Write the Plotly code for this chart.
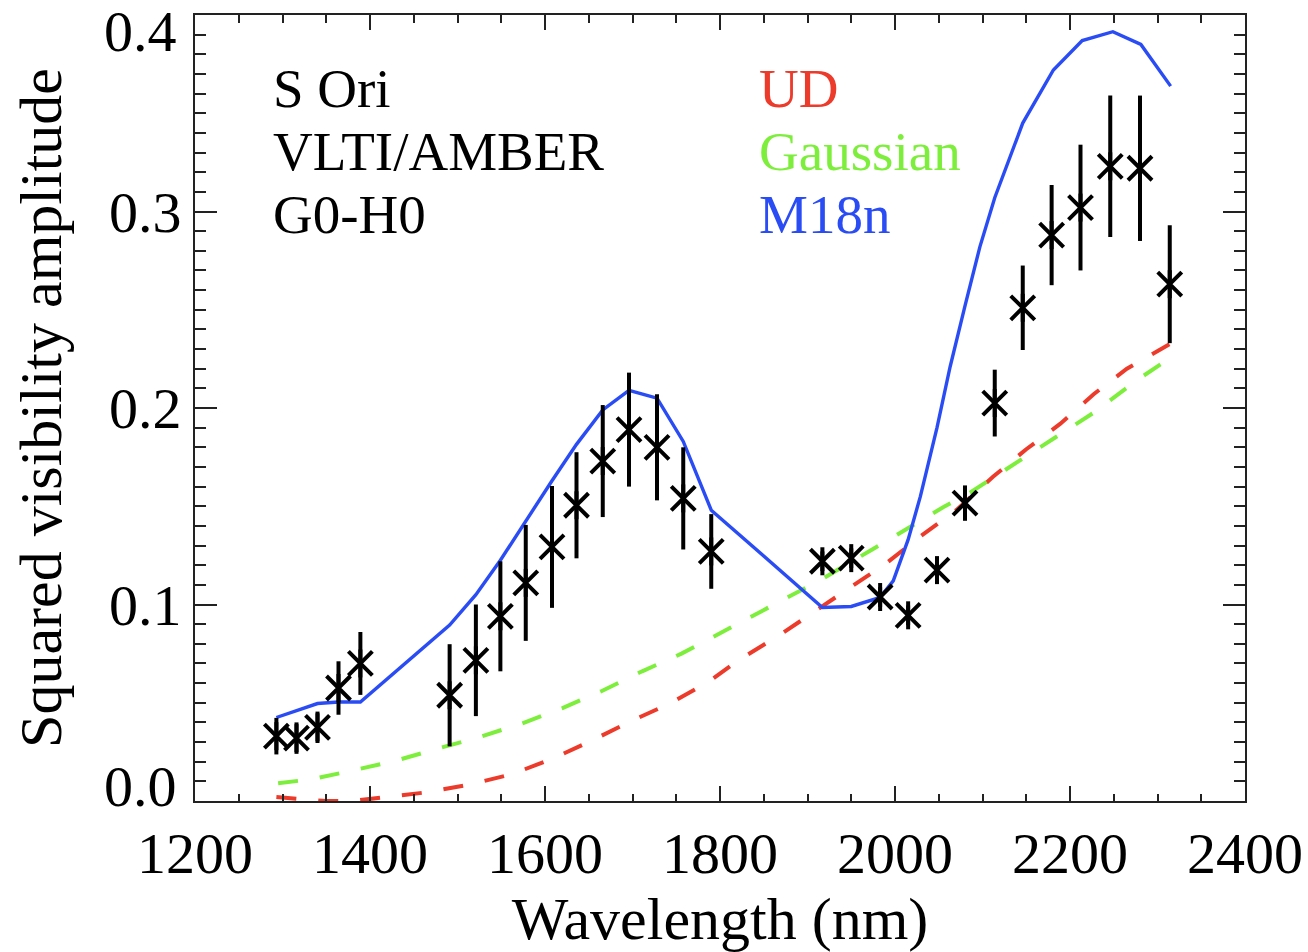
import plotly.graph_objects as go

# Observed squared visibilities (S Ori, VLTI/AMBER, baseline G0-H0)
wl_obs = [1293, 1316, 1340, 1364, 1389, 1491, 1521, 1549, 1578, 1608, 1636, 1666,
          1696, 1728, 1758, 1790, 1917, 1950, 1983, 2015, 2048, 2080, 2114, 2146,
          2179, 2212, 2246, 2280, 2314]
v2_obs = [0.033, 0.032, 0.0375, 0.0575, 0.070, 0.0538, 0.0716, 0.094, 0.111, 0.1293,
          0.1505, 0.173, 0.189, 0.180, 0.154, 0.127, 0.122, 0.1236, 0.1038, 0.0945,
          0.1175, 0.1516, 0.2025, 0.251, 0.288, 0.302, 0.323, 0.322, 0.263]
v2_err = [0.0093, 0.008, 0.008, 0.0136, 0.016, 0.026, 0.0284, 0.028, 0.0295, 0.031,
          0.027, 0.0285, 0.029, 0.027, 0.026, 0.019, 0.005, 0.005, 0.005, 0.005,
          0.005, 0.009, 0.017, 0.0215, 0.0255, 0.032, 0.036, 0.037, 0.030]

# Uniform disk model
wl_ud = [1293, 1320, 1350, 1380, 1417, 1466, 1515, 1562, 1610, 1650, 1700, 1743, 1787,
         1819, 1870, 1917, 1955, 1990, 2030, 2070, 2112, 2150, 2189, 2227, 2265, 2316]
v2_ud = [0.002, 0.001, 0.0, 0.0, 0.002, 0.0045, 0.0085, 0.0136, 0.0218, 0.030, 0.041,
         0.0497, 0.0607, 0.071, 0.085, 0.099, 0.110, 0.121, 0.135, 0.148, 0.165, 0.179,
         0.192, 0.207, 0.220, 0.233]

# Gaussian model
wl_gauss = [1295, 1335, 1382, 1431, 1480, 1527, 1574, 1620, 1665, 1711, 1756, 1799,
            1850, 1917, 1972, 2013, 2055, 2086, 2131, 2181, 2227, 2276, 2316]
v2_gauss = [0.009, 0.0112, 0.0157, 0.0207, 0.027, 0.0328, 0.0395, 0.0473, 0.056, 0.066,
            0.075, 0.085, 0.097, 0.113, 0.1275, 0.1385, 0.1495, 0.157, 0.170, 0.1848,
            0.1976, 0.214, 0.226]

# M18n dynamic model atmosphere
wl_m18n = [1293, 1316, 1340, 1364, 1389, 1491, 1521, 1549, 1578, 1608, 1636, 1666,
           1696, 1728, 1758, 1790, 1917, 1950, 1983, 1998, 2015, 2029, 2048, 2063,
           2080, 2097, 2114, 2146, 2181, 2214, 2249, 2281, 2315]
v2_m18n = [0.0425, 0.046, 0.0496, 0.0504, 0.0504, 0.0895, 0.105, 0.1225, 0.1425, 0.163,
           0.1815, 0.199, 0.209, 0.205, 0.183, 0.148, 0.0985, 0.099, 0.1036, 0.112,
           0.133, 0.155, 0.190, 0.221, 0.252, 0.282, 0.307, 0.345, 0.372, 0.387,
           0.3915, 0.385, 0.3638]

x_ticks = [1200, 1400, 1600, 1800, 2000, 2200, 2400]
y_ticks = [0.0, 0.1, 0.2, 0.3, 0.4]
y_ticktext = ["", "0.1", "0.2", "0.3", ""]

RED = "#EC3B2B"
GREEN = "#7EEE3C"
BLUE = "#2A4CF4"
FONT = "Liberation Serif"

# plot frame in pixels
L, R, T, B = 195, 63, 15, 151
W, H = 1308, 952
PW, PH = W - L - R, H - T - B

fig = go.Figure()

fig.add_trace(go.Scatter(
    x=wl_ud, y=v2_ud, mode="lines",
    line=dict(color=RED, width=4, dash="20px,22px"), hoverinfo="skip"))
fig.add_trace(go.Scatter(
    x=wl_gauss, y=v2_gauss, mode="lines",
    line=dict(color=GREEN, width=4, dash="20px,22px"), hoverinfo="skip"))
fig.add_trace(go.Scatter(
    x=wl_m18n, y=v2_m18n, mode="lines",
    line=dict(color=BLUE, width=3.4), hoverinfo="skip"))

# data with error bars, drawn as asterisks (diagonal cross + vertical stroke)
fig.add_trace(go.Scatter(
    x=wl_obs, y=v2_obs, mode="markers",
    marker=dict(symbol="x-thin-open", size=24, color="black",
                line=dict(color="black", width=4)),
    error_y=dict(type="data", array=v2_err, visible=True, color="black",
                 thickness=4, width=0)))
fig.add_trace(go.Scatter(
    x=wl_obs, y=v2_obs, mode="markers",
    marker=dict(symbol="line-ns-open", size=20, color="black",
                line=dict(color="black", width=4)),
    hoverinfo="skip"))

labels = [("S Ori", "black", 271, 0), ("VLTI/AMBER", "black", 271, 1), ("G0-H0", "black", 271, 2),
          ("UD", RED, 757, 0), ("Gaussian", GREEN, 757, 1), ("M18n", BLUE, 757, 2)]

anns = []
for txt, col, xpix, row in labels:
    ypix = 88 + 63 * row
    anns.append(dict(
        text=txt, xref="paper", yref="paper",
        x=(xpix - L) / PW, y=1 - (ypix - T) / PH,
        xanchor="left", yanchor="middle", showarrow=False,
        font=dict(family=FONT, size=55, color=col)))

# end labels of the y axis sit inside the frame
for lbl, ypix in [("0.0", 786), ("0.4", 32)]:
    anns.append(dict(
        text=lbl, xref="paper", yref="paper", x=0, y=1 - (ypix - T) / PH,
        xanchor="right", yanchor="middle", xshift=-16, showarrow=False,
        font=dict(family=FONT, size=58, color="black")))

fig.update_layout(
    width=W, height=H,
    margin=dict(l=L, r=R, t=T, b=B),
    paper_bgcolor="white", plot_bgcolor="white",
    showlegend=False,
    font=dict(family=FONT, color="black"),
    annotations=anns,
)

axis_common = dict(
    showgrid=False, zeroline=False, showline=True, linecolor="#222", linewidth=2,
    mirror="allticks", ticks="inside", tickcolor="#222", tickwidth=2, automargin=False,
    tickfont=dict(family=FONT, size=58, color="black"),
)

fig.update_xaxes(
    range=[1200, 2400], tickvals=x_ticks, ticklen=15,
    minor=dict(dtick=50, ticklen=7.5, ticks="inside", tickcolor="#222", tickwidth=2),
    title=dict(text="Wavelength (nm)", font=dict(family=FONT, size=60), standoff=2),
    **axis_common)
fig.update_yaxes(
    range=[0, 0.4], tickvals=y_ticks, ticktext=y_ticktext, ticklen=22,
    minor=dict(dtick=0.01, ticklen=11, ticks="inside", tickcolor="#222", tickwidth=2),
    title=dict(text="Squared visibility amplitude", font=dict(family=FONT, size=60), standoff=28),
    **axis_common)

fig.write_html("out.html")
